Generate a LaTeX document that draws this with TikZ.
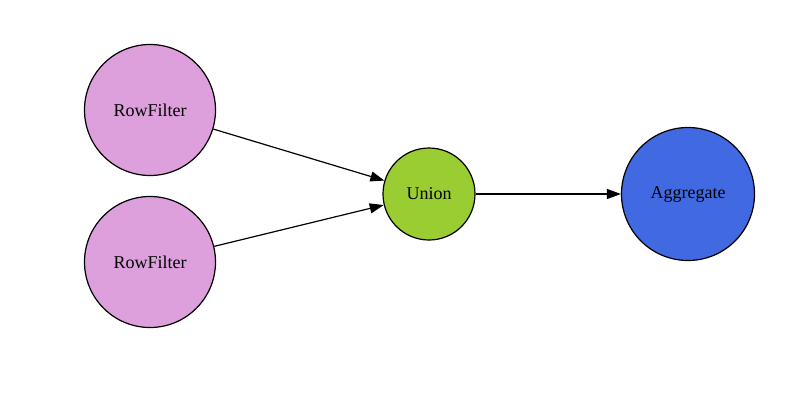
\documentclass[tikz,border=0pt]{standalone}
\usepackage{fontspec}
\setmainfont{Liberation Serif}
\usetikzlibrary{arrows.meta}
\definecolor{plumc}{HTML}{DDA0DD}
\definecolor{ygreen}{HTML}{9ACD32}
\definecolor{rblue}{HTML}{4169E1}
\begin{document}
\begin{tikzpicture}[x=1pt,y=1pt,
  opnode/.style={circle,draw=black,line width=1.2pt,inner sep=0pt,font=\fontsize{18}{20}\selectfont},
  edge/.style={line width=1.2pt,-{Triangle[length=14pt,width=10pt]}}]
\useasboundingbox (0,0) rectangle (791,400);
\node[opnode,fill=plumc,minimum size=131pt] (rf1) at (150,290) {RowFilter};
\node[opnode,fill=plumc,minimum size=131pt] (rf2) at (150,138) {RowFilter};
\node[opnode,fill=ygreen,minimum size=92pt] (un) at (429,206) {Union};
\node[opnode,fill=rblue,minimum size=133pt] (ag) at (688,206) {Aggregate};
\draw[edge] (rf1) -- (un);
\draw[edge] (rf2) -- (un);
\draw[edge] (un) -- (ag);
\end{tikzpicture}
\end{document}
